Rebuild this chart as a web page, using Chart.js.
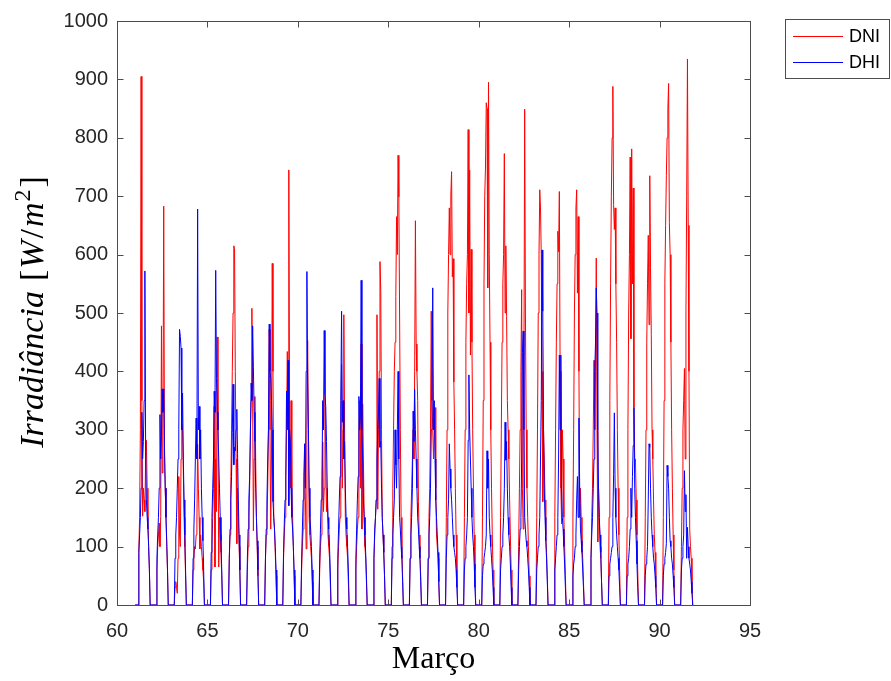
<!DOCTYPE html>
<html>
<head>
<meta charset="utf-8">
<script src="https://cdn.jsdelivr.net/npm/chart.js@4/dist/chart.umd.min.js"></script>
<style>
  html, body { margin: 0; padding: 0; background: #fff; }
  #wrap { width: 891px; height: 681px; }
</style>
</head>
<body>
<div id="wrap"><canvas id="irr" width="891" height="681"></canvas></div>
<script>
// days of March (day of year) and daylight hours sampled each day
const days = [61, 62, 63, 64, 65, 66, 67, 68, 69, 70, 71, 72, 73, 74, 75, 76,
  77, 78, 79, 80, 81, 82, 83, 84, 85, 86, 87, 88, 89, 90, 91];
const hours = [5, 6, 7, 8, 9, 10, 11, 12, 13, 14, 15, 16, 17, 18, 19];
const nightStart = 20, nightEnd = 4;

// DNI, W/m2, one row per day (hours 5..19)
const dniByDay = [
  [96, 150, 300, 905, 350, 152, 200, 180, 160, 250, 282, 200, 150, 100, 60],
  [60, 100, 120, 140, 100, 152, 478, 226, 300, 683, 260, 200, 150, 100, 60],
  [30, 40, 30, 20, 80, 220, 120, 100, 250, 310, 300, 230, 150, 100, 50],
  [60, 80, 100, 96, 120, 139, 275, 200, 150, 96, 120, 100, 80, 60, 40],
  [60, 100, 150, 200, 340, 65, 250, 160, 459, 300, 65, 150, 120, 90, 50],
  [80, 120, 200, 300, 400, 500, 615, 610, 400, 250, 105, 200, 150, 100, 60],
  [60, 100, 150, 200, 300, 350, 508, 350, 127, 250, 357, 250, 150, 100, 50],
  [80, 120, 150, 200, 300, 472, 300, 130, 250, 585, 400, 150, 130, 90, 50],
  [80, 120, 150, 214, 300, 434, 300, 745, 300, 200, 350, 200, 150, 100, 50],
  [60, 100, 130, 150, 276, 180, 96, 300, 453, 300, 150, 120, 100, 80, 40],
  [60, 100, 120, 150, 279, 160, 200, 360, 250, 160, 200, 120, 100, 80, 40],
  [60, 100, 130, 150, 300, 412, 200, 300, 497, 300, 150, 120, 100, 80, 40],
  [60, 100, 130, 150, 300, 350, 200, 447, 130, 344, 250, 150, 100, 80, 40],
  [80, 120, 150, 180, 497, 164, 300, 400, 588, 537, 300, 150, 120, 90, 50],
  [100, 200, 300, 400, 450, 528, 665, 600, 770, 699, 500, 300, 150, 100, 50],
  [80, 150, 200, 250, 300, 250, 400, 658, 447, 400, 350, 177, 120, 90, 50],
  [80, 150, 200, 300, 503, 350, 300, 250, 300, 338, 200, 120, 100, 80, 40],
  [150, 300, 500, 600, 680, 600, 702, 742, 562, 593, 382, 300, 200, 120, 60],
  [150, 300, 450, 550, 600, 814, 500, 745, 428, 609, 450, 300, 200, 120, 60],
  [150, 350, 550, 700, 750, 860, 850, 543, 895, 600, 450, 300, 200, 120, 60],
  [150, 300, 450, 550, 600, 773, 500, 615, 494, 350, 300, 250, 180, 120, 60],
  [100, 200, 300, 400, 540, 200, 130, 400, 849, 500, 300, 200, 150, 100, 50],
  [150, 300, 500, 600, 711, 680, 600, 400, 177, 300, 250, 180, 120, 90, 50],
  [150, 300, 450, 550, 640, 605, 708, 400, 200, 139, 300, 250, 150, 100, 50],
  [150, 300, 500, 600, 680, 711, 534, 665, 400, 150, 200, 150, 100, 80, 40],
  [80, 150, 200, 300, 419, 300, 400, 594, 300, 108, 200, 150, 100, 80, 40],
  [150, 350, 550, 700, 800, 888, 686, 643, 680, 550, 450, 300, 200, 120, 60],
  [150, 300, 500, 600, 767, 456, 781, 550, 714, 338, 251, 250, 180, 120, 60],
  [150, 300, 450, 550, 633, 480, 735, 578, 463, 300, 250, 180, 120, 90, 50],
  [150, 350, 550, 650, 735, 800, 850, 893, 655, 600, 450, 300, 200, 120, 60],
  [100, 200, 300, 350, 405, 250, 500, 700, 935, 650, 400, 130, 100, 80, 40]
];

// DHI, W/m2, one row per day (hours 5..19)
const dhiByDay = [
  [90, 120, 150, 200, 330, 250, 280, 350, 572, 263, 180, 150, 130, 100, 60],
  [80, 120, 150, 200, 326, 250, 290, 370, 330, 370, 270, 200, 150, 110, 60],
  [80, 120, 150, 200, 250, 300, 472, 460, 440, 300, 363, 250, 180, 120, 60],
  [80, 130, 180, 250, 320, 250, 678, 300, 340, 250, 300, 200, 150, 110, 60],
  [90, 150, 200, 250, 366, 330, 573, 388, 330, 300, 250, 200, 150, 110, 60],
  [80, 130, 180, 220, 295, 378, 240, 270, 264, 300, 335, 260, 180, 120, 60],
  [80, 130, 180, 220, 288, 380, 350, 478, 406, 330, 280, 200, 150, 110, 60],
  [80, 130, 180, 250, 300, 481, 400, 388, 350, 300, 177, 150, 130, 100, 60],
  [90, 140, 180, 220, 366, 300, 419, 170, 300, 280, 200, 150, 130, 100, 60],
  [80, 130, 180, 220, 276, 200, 400, 571, 380, 300, 200, 150, 130, 100, 60],
  [80, 130, 180, 220, 350, 300, 470, 360, 340, 280, 200, 150, 130, 100, 60],
  [80, 130, 180, 220, 350, 503, 313, 350, 250, 280, 200, 150, 130, 100, 60],
  [80, 130, 180, 220, 357, 300, 320, 556, 300, 250, 180, 150, 120, 90, 50],
  [80, 130, 150, 180, 250, 300, 330, 388, 270, 280, 200, 150, 120, 90, 50],
  [80, 120, 150, 180, 300, 240, 200, 300, 400, 250, 150, 130, 100, 80, 40],
  [80, 120, 150, 200, 332, 280, 369, 300, 250, 200, 150, 130, 100, 80, 40],
  [80, 120, 150, 200, 300, 350, 543, 300, 350, 250, 180, 150, 120, 90, 40],
  [80, 120, 150, 180, 276, 233, 200, 180, 150, 120, 100, 90, 80, 60, 30],
  [60, 80, 100, 120, 150, 282, 394, 300, 250, 200, 150, 120, 100, 70, 30],
  [50, 70, 80, 90, 100, 120, 264, 200, 250, 150, 120, 100, 80, 60, 30],
  [60, 80, 100, 120, 150, 200, 313, 248, 280, 200, 150, 120, 100, 70, 30],
  [60, 100, 130, 150, 250, 432, 469, 300, 150, 130, 110, 100, 80, 60, 30],
  [60, 80, 100, 120, 150, 250, 350, 608, 503, 300, 200, 150, 110, 80, 40],
  [60, 80, 100, 120, 150, 250, 428, 300, 428, 200, 150, 130, 100, 70, 30],
  [50, 70, 80, 100, 120, 180, 220, 150, 320, 200, 130, 110, 90, 60, 30],
  [80, 120, 150, 200, 250, 400, 450, 543, 500, 300, 200, 150, 120, 90, 40],
  [50, 70, 80, 90, 100, 150, 223, 329, 200, 150, 120, 100, 80, 60, 30],
  [50, 70, 80, 100, 130, 200, 150, 220, 273, 338, 200, 150, 110, 70, 30],
  [50, 70, 80, 100, 180, 276, 270, 200, 150, 120, 100, 80, 70, 50, 30],
  [50, 70, 80, 90, 105, 239, 220, 200, 150, 110, 100, 80, 70, 50, 30],
  [60, 80, 100, 120, 230, 160, 189, 80, 133, 100, 80, 70, 60, 40, 20]
];

const xTicks = [60, 65, 70, 75, 80, 85, 90, 95];
const yTicks = [0, 100, 200, 300, 400, 500, 600, 700, 800, 900, 1000];

const axisColor = "#262626";
const frameColor = "#4d4d4d";

function series(byDay) {
  const pts = [{ x: days[0], y: 0 }];
  days.forEach((d, i) => {
    pts.push({ x: d + nightEnd / 24, y: 0 });
    hours.forEach((h, j) => pts.push({ x: d + h / 24, y: byDay[i][j] }));
    pts.push({ x: d + nightStart / 24, y: 0 });
  });
  return pts;
}

// box, inward ticks, legend and the y label (mixed italic / math)
const matlabLook = {
  id: "matlabLook",
  afterDraw(chart) {
    const { ctx, chartArea: a, scales } = chart;
    const L = Math.round(a.left) + 0.5, R = Math.round(a.right) + 0.5;
    const T = Math.round(a.top) + 0.5, B = Math.round(a.bottom) + 0.5;
    ctx.save();
    ctx.strokeStyle = frameColor;
    ctx.lineWidth = 1;
    ctx.strokeRect(L, T, R - L, B - T);
    ctx.beginPath();
    xTicks.forEach(v => {
      const px = Math.round(scales.x.getPixelForValue(v)) + 0.5;
      ctx.moveTo(px, B); ctx.lineTo(px, B - 6);
      ctx.moveTo(px, T); ctx.lineTo(px, T + 6);
    });
    yTicks.forEach(v => {
      const py = Math.round(scales.y.getPixelForValue(v)) + 0.5;
      ctx.moveTo(L, py); ctx.lineTo(L + 6, py);
      ctx.moveTo(R, py); ctx.lineTo(R - 6, py);
    });
    ctx.stroke();

    // legend
    ctx.fillStyle = "#fff";
    ctx.fillRect(785.5, 19.5, 104, 59);
    ctx.strokeStyle = frameColor;
    ctx.strokeRect(785.5, 19.5, 104, 59);
    const items = [["DNI", "#ff0000", 36], ["DHI", "#0000ff", 62]];
    ctx.font = '18px "Liberation Sans", Arial, sans-serif';
    ctx.textBaseline = "middle";
    ctx.textAlign = "left";
    items.forEach(([label, col, y]) => {
      ctx.strokeStyle = col;
      ctx.beginPath();
      ctx.moveTo(793, y + 0.5); ctx.lineTo(843, y + 0.5);
      ctx.stroke();
      ctx.fillStyle = "#000";
      ctx.fillText(label, 849, y + 1);
    });

    // y axis title
    const size = 34;
    const it = `italic ${size}px "Liberation Serif", "Times New Roman", serif`;
    const up = `${size}px "Liberation Serif", "Times New Roman", serif`;
    const sup = `${Math.round(size * 0.7)}px "Liberation Serif", "Times New Roman", serif`;
    const segs = [
      { t: "Irradiância", f: it, gap: 10 },
      { t: "[", f: up, gap: 1 },
      { t: "W", f: it, gap: 2 },
      { t: "/", f: up, gap: 2 },
      { t: "m", f: it, gap: 1 },
      { t: "2", f: sup, gap: 2, dy: -13 },
      { t: "]", f: up, gap: 0 }
    ];
    let total = 0;
    segs.forEach(s => { ctx.font = s.f; s.w = ctx.measureText(s.t).width; total += s.w + s.gap; });
    ctx.translate(43, 312);
    ctx.rotate(-Math.PI / 2);
    ctx.fillStyle = "#000";
    ctx.textBaseline = "alphabetic";
    let xx = -total / 2;
    segs.forEach(s => {
      ctx.font = s.f;
      ctx.fillText(s.t, xx, s.dy || 0);
      xx += s.w + s.gap;
    });
    ctx.restore();
  }
};

new Chart(document.getElementById("irr"), {
  type: "line",
  data: {
    datasets: [
      { label: "DNI", data: series(dniByDay), borderColor: "#ff0000", borderWidth: 1, order: 1 },
      { label: "DHI", data: series(dhiByDay), borderColor: "#0000ff", borderWidth: 1, order: 0 }
    ]
  },
  options: {
    responsive: false,
    animation: false,
    devicePixelRatio: 1,
    parsing: false,
    elements: { point: { radius: 0 }, line: { tension: 0 } },
    layout: { padding: { left: 0, top: 20, right: 141, bottom: 0 } },
    plugins: { legend: { display: false }, tooltip: { enabled: false } },
    scales: {
      x: {
        type: "linear", min: 60, max: 95,
        afterBuildTicks: s => { s.ticks = xTicks.map(v => ({ value: v })); },
        afterFit: s => { s.height = 76; },
        grid: { display: false, drawTicks: false, tickLength: 0 },
        border: { display: false },
        ticks: { color: axisColor, padding: 14, maxRotation: 0, callback: v => String(v),
          font: { family: '"Liberation Sans", Arial, sans-serif', size: 20 } },
        title: { display: true, text: "Março", color: "#000", padding: { top: 0, bottom: 2 },
          font: { family: '"Liberation Serif", "Times New Roman", serif', size: 32 } }
      },
      y: {
        min: 0, max: 1000,
        afterBuildTicks: s => { s.ticks = yTicks.map(v => ({ value: v })); },
        afterFit: s => { s.width = 117; },
        grid: { display: false, drawTicks: false, tickLength: 0 },
        border: { display: false },
        ticks: { color: axisColor, padding: 9, callback: v => String(v),
          font: { family: '"Liberation Sans", Arial, sans-serif', size: 20 } }
      }
    }
  },
  plugins: [matlabLook]
});
</script>
</body>
</html>
